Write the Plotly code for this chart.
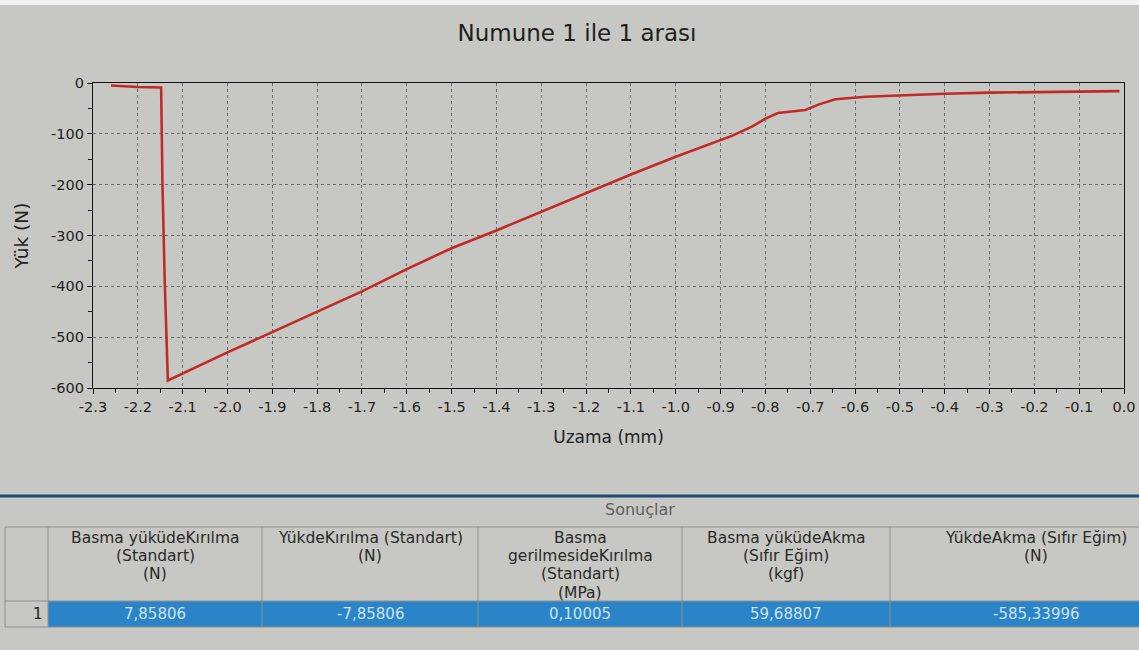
import plotly.graph_objects as go

# Load vs. elongation curve of the compression test
uzama = [-2.26, -2.20, -2.148, -2.145, -2.14, -2.133, -2.0, -1.9, -1.8, -1.7, -1.6,
         -1.5, -1.4, -1.3, -1.2, -1.1, -1.0, -0.9, -0.875, -0.83, -0.8, -0.772, -0.74,
         -0.711, -0.68, -0.644, -0.576, -0.5, -0.4, -0.3, -0.2, -0.1, -0.01]
yuk = [-5, -8, -9, -200, -390, -585, -530, -490, -450, -410, -366,
       -325, -290, -253, -217, -180, -145, -112, -104, -86, -70, -59, -56,
       -53, -42, -32, -27, -24, -21, -19, -18, -17, -16]

x_tick_vals = [-2.3, -2.2, -2.1, -2.0, -1.9, -1.8, -1.7, -1.6, -1.5, -1.4, -1.3, -1.2,
               -1.1, -1.0, -0.9, -0.8, -0.7, -0.6, -0.5, -0.4, -0.3, -0.2, -0.1, 0.0]
x_tick_text = ["-2.3", "-2.2", "-2.1", "-2.0", "-1.9", "-1.8", "-1.7", "-1.6", "-1.5",
               "-1.4", "-1.3", "-1.2", "-1.1", "-1.0", "-0.9", "-0.8", "-0.7", "-0.6",
               "-0.5", "-0.4", "-0.3", "-0.2", "-0.1", "0.0"]
y_tick_vals = [0, -100, -200, -300, -400, -500, -600]
y_tick_text = ["0", "-100", "-200", "-300", "-400", "-500", "-600"]

# Results table: header lines per column, then the single result row
sonuc_basliklari = [
    ["Basma yüküdeKırılma", "(Standart)", "(N)"],
    ["YükdeKırılma (Standart)", "(N)"],
    ["Basma", "gerilmesideKırılma", "(Standart)", "(MPa)"],
    ["Basma yüküdeAkma", "(Sıfır Eğim)", "(kgf)"],
    ["YükdeAkma (Sıfır Eğim)", "(N)"],
]
sonuc_degerleri = ["7,85806", "-7,85806", "0,10005", "59,68807", "-585,33996"]

W, H = 1139, 650
BG = "#c7c8c3"
FONT = "DejaVu Sans"


def px(x):
    return x / W


def py(y):
    return 1 - y / H


fig = go.Figure()
fig.add_trace(go.Scatter(x=uzama, y=yuk, mode="lines",
                         line=dict(color="#c22a26", width=2.6), showlegend=False,
                         hoverinfo="skip"))

axis_common = dict(
    showline=True, linecolor="#111", linewidth=1.3, mirror=True,
    ticks="outside", ticklen=5, tickcolor="#111", tickwidth=1,
    showgrid=True, gridcolor="#6a6a6a", griddash="dot", gridwidth=1,
    zeroline=False, automargin=False,
    tickfont=dict(family=FONT, size=14.5, color="#222"),
)

fig.update_xaxes(
    **axis_common,
    domain=[px(93), px(1124)], range=[-2.3, 0.0],
    tickmode="array", tickvals=x_tick_vals, ticktext=x_tick_text,
    minor=dict(dtick=0.05, tick0=0, ticks="outside", ticklen=4, tickcolor="#111", showgrid=False),
    title=dict(text="Uzama (mm)", font=dict(family=FONT, size=17, color="#222"), standoff=17),
)
fig.update_yaxes(
    **axis_common,
    domain=[py(388), py(83)], range=[-600, 0],
    tickmode="array", tickvals=y_tick_vals, ticktext=y_tick_text,
    minor=dict(dtick=50, tick0=0, ticks="outside", ticklen=4, tickcolor="#111", showgrid=False),
    title=dict(text="Yük (N)", font=dict(family=FONT, size=18.5, color="#222"), standoff=17),
)

shapes = []
annotations = []

# light strip along the top edge
shapes.append(dict(type="rect", xref="paper", yref="paper", x0=0, x1=1, y0=py(5), y1=1,
                   fillcolor="#f2f2f0", line=dict(width=0), layer="below"))

# divider above results panel
shapes.append(dict(type="line", xref="paper", yref="paper", x0=0, x1=1, y0=py(496), y1=py(496),
                   line=dict(color="#1f4a78", width=3)))
annotations.append(dict(text="Sonuçlar", xref="paper", yref="paper", x=px(640), y=py(509),
                        xanchor="center", yanchor="middle", showarrow=False,
                        font=dict(family=FONT, size=16, color="#5e5e5e")))

# table geometry
col_edges = [48, 262, 478, 682, 890, 1182]
top, mid, bot = 527, 601, 627
line_step = 18.2

shapes.append(dict(type="rect", xref="paper", yref="paper", x0=px(48), x1=1, y0=py(bot), y1=py(mid),
                   fillcolor="#2c84c8", line=dict(width=0)))
for yy in (top, mid, bot):
    shapes.append(dict(type="line", xref="paper", yref="paper", x0=px(5), x1=1, y0=py(yy), y1=py(yy),
                       line=dict(color="#8f8f8f", width=1)))
for xx in [5] + col_edges[:-1]:
    shapes.append(dict(type="line", xref="paper", yref="paper", x0=px(xx), x1=px(xx),
                       y0=py(bot), y1=py(top), line=dict(color="#8f8f8f", width=1)))

for i, (satirlar, deger) in enumerate(zip(sonuc_basliklari, sonuc_degerleri)):
    cx = (col_edges[i] + col_edges[i + 1]) / 2
    for k, satir in enumerate(satirlar):
        annotations.append(dict(text=satir, xref="paper", yref="paper", x=px(cx),
                                y=py(538 + k * line_step), xanchor="center", yanchor="middle",
                                showarrow=False,
                                font=dict(family=FONT, size=15.5, color="#2a2a2a")))
    annotations.append(dict(text=deger, xref="paper", yref="paper", x=px(cx), y=py(614),
                            xanchor="center", yanchor="middle", showarrow=False,
                            font=dict(family=FONT, size=15, color="#cde2f2")))

annotations.append(dict(text="1", xref="paper", yref="paper", x=px(45), y=py(614),
                        xanchor="right", yanchor="middle", showarrow=False,
                        font=dict(family=FONT, size=15, color="#222")))

fig.update_layout(
    width=W, height=H,
    margin=dict(l=0, r=0, t=0, b=0),
    paper_bgcolor=BG, plot_bgcolor=BG,
    title=dict(text="Numune 1 ile 1 arası", x=px(577), xanchor="center", y=py(33), yanchor="middle",
               font=dict(family=FONT, size=23, color="#1e1e1e")),
    shapes=shapes, annotations=annotations,
    showlegend=False,
)

fig.write_html("out.html")
